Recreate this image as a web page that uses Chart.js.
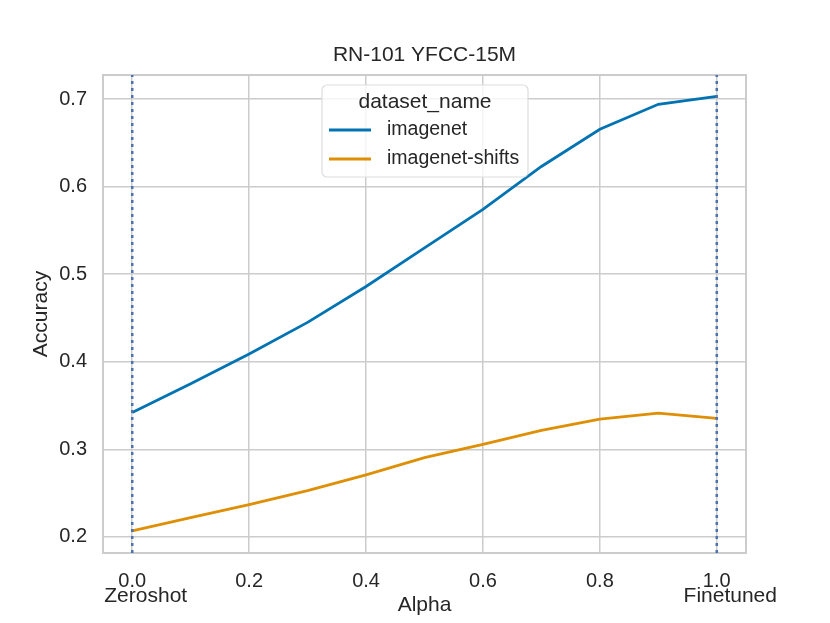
<!DOCTYPE html>
<html>
<head>
<meta charset="utf-8">
<script src="https://cdn.jsdelivr.net/npm/chart.js@4/dist/chart.umd.min.js"></script>
<style>
  html, body { margin: 0; padding: 0; background: #ffffff; }
  #wrap { width: 830px; height: 623px; }
</style>
</head>
<body>
<div id="wrap"><canvas id="chart"></canvas></div>
<script>
const alphas = [0.0, 0.1, 0.2, 0.3, 0.4, 0.5, 0.6, 0.7, 0.8, 0.9, 1.0];
const imagenet = [0.342, 0.375, 0.409, 0.445, 0.486, 0.530, 0.574, 0.623, 0.6655, 0.694, 0.703];
const imagenetShifts = [0.207, 0.222, 0.237, 0.253, 0.271, 0.2905, 0.3057, 0.3216, 0.3345, 0.3413, 0.3353];
const seriesNames = ["imagenet", "imagenet-shifts"];
const xTicks = [0.0, 0.2, 0.4, 0.6, 0.8, 1.0];
const endValues = [0.0, 1.0];
const endLabels = ["Zeroshot", "Finetuned"];
const yTicks = [0.2, 0.3, 0.4, 0.5, 0.6, 0.7];
const xRange = [-0.05, 1.05];
const yRange = [0.1817, 0.7274];
const chartTitle = "RN-101 YFCC-15M";

const FONT = "'Liberation Sans', Arial, sans-serif";
const TEXT = "#262626";
const blue = "#0173b2";
const orange = "#de8f05";
const markerColor = "#4c72b0";

function toPoints(ys) {
    return alphas.map((a, i) => ({ x: a, y: ys[i] }));
}

// frame round the plot, title, Zeroshot/Finetuned names, legend
const frameAndLegend = {
    id: "frameAndLegend",
    beforeDatasetsDraw(chart) {
        const { ctx, chartArea: a } = chart;
        ctx.save();
        ctx.strokeStyle = "#cccccc";
        ctx.lineWidth = 2;
        ctx.strokeRect(a.left, a.top, a.right - a.left, a.bottom - a.top);

        ctx.fillStyle = TEXT;
        ctx.textAlign = "center";
        ctx.textBaseline = "middle";
        ctx.font = "21px " + FONT;
        ctx.fillText(chartTitle, (a.left + a.right) / 2, 55);

        const xs = chart.scales.x;
        endValues.forEach((v, i) => {
            ctx.fillText(endLabels[i], xs.getPixelForValue(v) + 13.5, 596);
        });
        ctx.restore();
    },
    afterDatasetsDraw(chart) {
        const ctx = chart.ctx;
        const bx = 322, by = 85, bw = 206, bh = 92;
        ctx.save();
        ctx.beginPath();
        ctx.roundRect(bx, by, bw, bh, 5);
        ctx.fillStyle = "rgba(255,255,255,0.8)";
        ctx.fill();
        ctx.strokeStyle = "#dddddd";
        ctx.lineWidth = 1.2;
        ctx.stroke();

        ctx.fillStyle = TEXT;
        ctx.textBaseline = "middle";
        ctx.textAlign = "center";
        ctx.font = "21px " + FONT;
        ctx.fillText("dataset_name", bx + bw / 2, 102);

        ctx.textAlign = "left";
        ctx.font = "19.5px " + FONT;
        const rows = [130, 159];
        [blue, orange].forEach((c, i) => {
            ctx.strokeStyle = c;
            ctx.lineWidth = 2.8;
            ctx.beginPath();
            ctx.moveTo(329, rows[i]);
            ctx.lineTo(371, rows[i]);
            ctx.stroke();
            ctx.fillText(seriesNames[i], 387, rows[i]);
        });
        ctx.restore();
    }
};

const datasets = [
    {
        label: seriesNames[0],
        data: toPoints(imagenet),
        borderColor: blue,
        borderWidth: 2.8,
        pointRadius: 0,
        tension: 0,
        order: 2
    },
    {
        label: seriesNames[1],
        data: toPoints(imagenetShifts),
        borderColor: orange,
        borderWidth: 2.8,
        pointRadius: 0,
        tension: 0,
        order: 2
    }
];
endValues.forEach(a => {
    datasets.push({
        label: "marker",
        data: [{ x: a, y: yRange[0] }, { x: a, y: yRange[1] }],
        borderColor: markerColor,
        borderWidth: 2.5,
        borderDash: [3, 4],
        pointRadius: 0,
        order: 1
    });
});

new Chart(document.getElementById("chart"), {
    type: "line",
    data: { datasets: datasets },
    options: {
        responsive: true,
        maintainAspectRatio: false,
        animation: false,
        layout: { padding: { left: 0, right: 84, top: 75, bottom: 0 } },
        plugins: {
            legend: { display: false },
            tooltip: { enabled: false },
            title: { display: false }
        },
        scales: {
            x: {
                type: "linear",
                min: xRange[0],
                max: xRange[1],
                afterBuildTicks: s => { s.ticks = xTicks.map(v => ({ value: v })); },
                afterFit: s => { s.height = 70; },
                grid: { color: "#cccccc", lineWidth: 1.5, drawTicks: false },
                border: { display: false },
                ticks: {
                    color: TEXT,
                    padding: 16,
                    maxRotation: 0,
                    font: { family: FONT, size: 20 },
                    callback: v => v.toFixed(1)
                },
                title: {
                    display: true,
                    text: "Alpha",
                    color: TEXT,
                    font: { family: FONT, size: 21 },
                    padding: { top: 0, bottom: 5 }
                }
            },
            y: {
                type: "linear",
                min: yRange[0],
                max: yRange[1],
                afterBuildTicks: s => { s.ticks = yTicks.map(v => ({ value: v })); },
                afterFit: s => { s.width = 103; },
                grid: { color: "#cccccc", lineWidth: 1.5, drawTicks: false },
                border: { display: false },
                ticks: {
                    color: TEXT,
                    padding: 16,
                    font: { family: FONT, size: 20 },
                    callback: v => v.toFixed(1)
                },
                title: {
                    display: true,
                    text: "Accuracy",
                    color: TEXT,
                    font: { family: FONT, size: 21 },
                    padding: { top: 29, bottom: 0 }
                }
            }
        }
    },
    plugins: [frameAndLegend]
});
</script>
</body>
</html>
